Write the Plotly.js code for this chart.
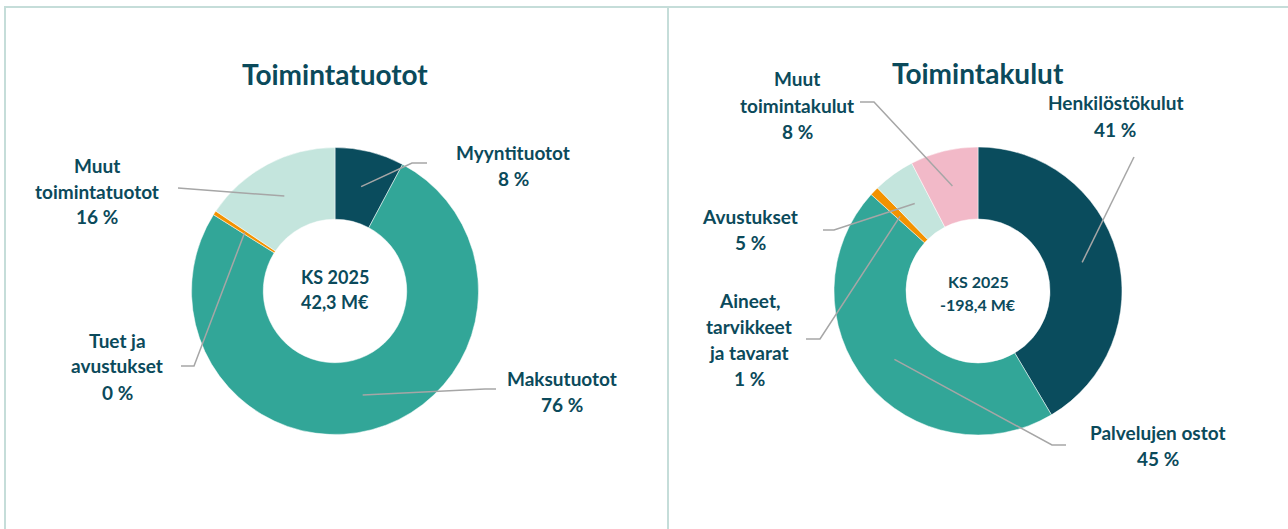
<!DOCTYPE html>
<html>
<head>
<meta charset="utf-8">
<script src="https://cdn.plot.ly/plotly-3.0.1.min.js"></script>
<style>html,body{margin:0;padding:0;background:#fff;}#chart{width:1288px;height:529px;}</style>
</head>
<body>
<div id="chart"></div>
<script>
// ---- data ----
const incomeTitle = "Toimintatuotot";
const incomeLabels = ["Myyntituotot", "Maksutuotot", "Tuet ja avustukset", "Muut toimintatuotot"];
const incomeLabelLines = [["Myyntituotot"], ["Maksutuotot"], ["Tuet ja", "avustukset"], ["Muut", "toimintatuotot"]];
const incomeValues = [3.3, 32.2, 0.2, 6.6];
const incomeCenter = ["KS 2025", "42,3 M€"];

const costTitle = "Toimintakulut";
const costLabels = ["Henkilöstökulut", "Palvelujen ostot", "Aineet, tarvikkeet ja tavarat", "Avustukset", "Muut toimintakulut"];
const costLabelLines = [["Henkilöstökulut"], ["Palvelujen ostot"], ["Aineet,", "tarvikkeet", "ja tavarat"], ["Avustukset"], ["Muut", "toimintakulut"]];
const costValues = [82.3, 89.7, 2.0, 9.3, 15.1];
const costCenter = ["KS 2025", "-198,4 M€"];

// ---- styles ----
const W = 1288, H = 529;
const textColor = "#0b4a5b";
const incomeColors = ["#0a4c5d", "#32a698", "#f39200", "#c4e5dd"];
const costColors = ["#0a4c5d", "#32a698", "#f39200", "#c4e5dd", "#f2b9c8"];
const FONT = "Lato, sans-serif";
const LABEL_SIZE = 19;

// donut geometry in pixels
const pieL = {cx: 335, cy: 291, r: 143.5};
const pieR = {cx: 978, cy: 291, r: 144};

function domainOf(p) {
  return {
    x: [(p.cx - p.r) / W, (p.cx + p.r) / W],
    y: [1 - (p.cy + p.r) / H, 1 - (p.cy - p.r) / H]
  };
}
const px = x => x / W;
const py = y => 1 - y / H;

// label layout: label center (lx, ly of first line), leader elbow points
const incomeLayout = [
  {lx: 513, ly: 152, path: [[427, 163], [412, 163]]},
  {lx: 562, ly: 378, path: [[496, 389], [485, 389]]},
  {lx: 117, ly: 340, path: [[181, 366], [194, 366]]},
  {lx: 97, ly: 165, path: [[178, 188]]}
];
const costLayout = [
  {lx: 1115, ly: 103, path: [[1134, 157]]},
  {lx: 1158, ly: 432, path: [[1066, 445], [1052, 445]]},
  {lx: 749, ly: 300, path: [[806, 339], [820, 339]]},
  {lx: 750, ly: 217, path: [[823, 230], [834, 230]]},
  {lx: 797, ly: 79, path: [[860, 102], [874, 102]]}
];

const annotations = [];
const shapes = [];

function pct(values) {
  const tot = values.reduce((a, b) => a + b, 0);
  return values.map(v => v / tot);
}

function addLabels(values, lines, lay, p, lineH) {
  const fr = pct(values);
  let cum = 0;
  fr.forEach((f, i) => {
    const mid = (cum + f / 2) * 2 * Math.PI;
    cum += f;
    const tipX = p.cx + 0.75 * p.r * Math.sin(mid);
    const tipY = p.cy - 0.75 * p.r * Math.cos(mid);
    const L = lay[i];
    const txt = lines[i].concat([Math.round(f * 100) + " %"]);
    txt.forEach((t, k) => {
      annotations.push({
        xref: "paper", yref: "paper", x: px(L.lx), y: py(L.ly + k * lineH),
        xanchor: "center", yanchor: "middle", showarrow: false, text: "<b>" + t + "</b>",
        font: {family: FONT, size: LABEL_SIZE, color: textColor}
      });
    });
    const pts = L.path.concat([[tipX, tipY]]);
    let d = "M " + px(pts[0][0]) + " " + py(pts[0][1]);
    for (let k = 1; k < pts.length; k++) d += " L " + px(pts[k][0]) + " " + py(pts[k][1]);
    shapes.push({type: "path", xref: "paper", yref: "paper", path: d, line: {color: "#a6a6a6", width: 1.5}});
  });
}

addLabels(incomeValues, incomeLabelLines, incomeLayout, pieL, 26);
addLabels(costValues, costLabelLines, costLayout, pieR, 26);

// titles
annotations.push({xref: "paper", yref: "paper", x: px(335), y: py(74), xanchor: "center", yanchor: "middle", showarrow: false,
  text: "<b>" + incomeTitle + "</b>", font: {family: FONT, size: 28, color: textColor}});
annotations.push({xref: "paper", yref: "paper", x: px(978), y: py(73), xanchor: "center", yanchor: "middle", showarrow: false,
  text: "<b>" + costTitle + "</b>", font: {family: FONT, size: 28, color: textColor}});
// centers
incomeCenter.forEach((t, k) => annotations.push({xref: "paper", yref: "paper", x: px(335), y: py(277 + k * 25), xanchor: "center", yanchor: "middle",
  showarrow: false, text: "<b>" + t + "</b>", font: {family: FONT, size: 18, color: textColor}}));
costCenter.forEach((t, k) => annotations.push({xref: "paper", yref: "paper", x: px(978), y: py(281 + k * 23), xanchor: "center", yanchor: "middle",
  showarrow: false, text: "<b>" + t + "</b>", font: {family: FONT, size: 16, color: textColor}}));

// panel borders
const border = "#c5ddd9";
shapes.push({type: "line", xref: "paper", yref: "paper", x0: px(4), x1: 1, y0: py(7), y1: py(7), line: {color: border, width: 2}});
shapes.push({type: "line", xref: "paper", yref: "paper", x0: px(5), x1: px(5), y0: py(6), y1: 0, line: {color: border, width: 2}});
shapes.push({type: "line", xref: "paper", yref: "paper", x0: px(668), x1: px(668), y0: py(6), y1: 0, line: {color: border, width: 2}});

const traces = [
  {type: "pie", labels: incomeLabels, values: incomeValues, hole: 0.5, sort: false, direction: "clockwise", rotation: 0,
   marker: {colors: incomeColors, line: {color: "#ffffff", width: 0.5}}, textinfo: "none", hoverinfo: "label+percent",
   domain: domainOf(pieL), showlegend: false},
  {type: "pie", labels: costLabels, values: costValues, hole: 0.5, sort: false, direction: "clockwise", rotation: 0,
   marker: {colors: costColors, line: {color: "#ffffff", width: 0.5}}, textinfo: "none", hoverinfo: "label+percent",
   domain: domainOf(pieR), showlegend: false}
];

const layout = {
  width: W, height: H, margin: {l: 0, r: 0, t: 0, b: 0},
  paper_bgcolor: "#ffffff", plot_bgcolor: "#ffffff",
  showlegend: false, annotations: annotations, shapes: shapes,
  font: {family: FONT, color: textColor}
};

Plotly.newPlot("chart", traces, layout, {displayModeBar: false, staticPlot: true});
</script>
</body>
</html>
